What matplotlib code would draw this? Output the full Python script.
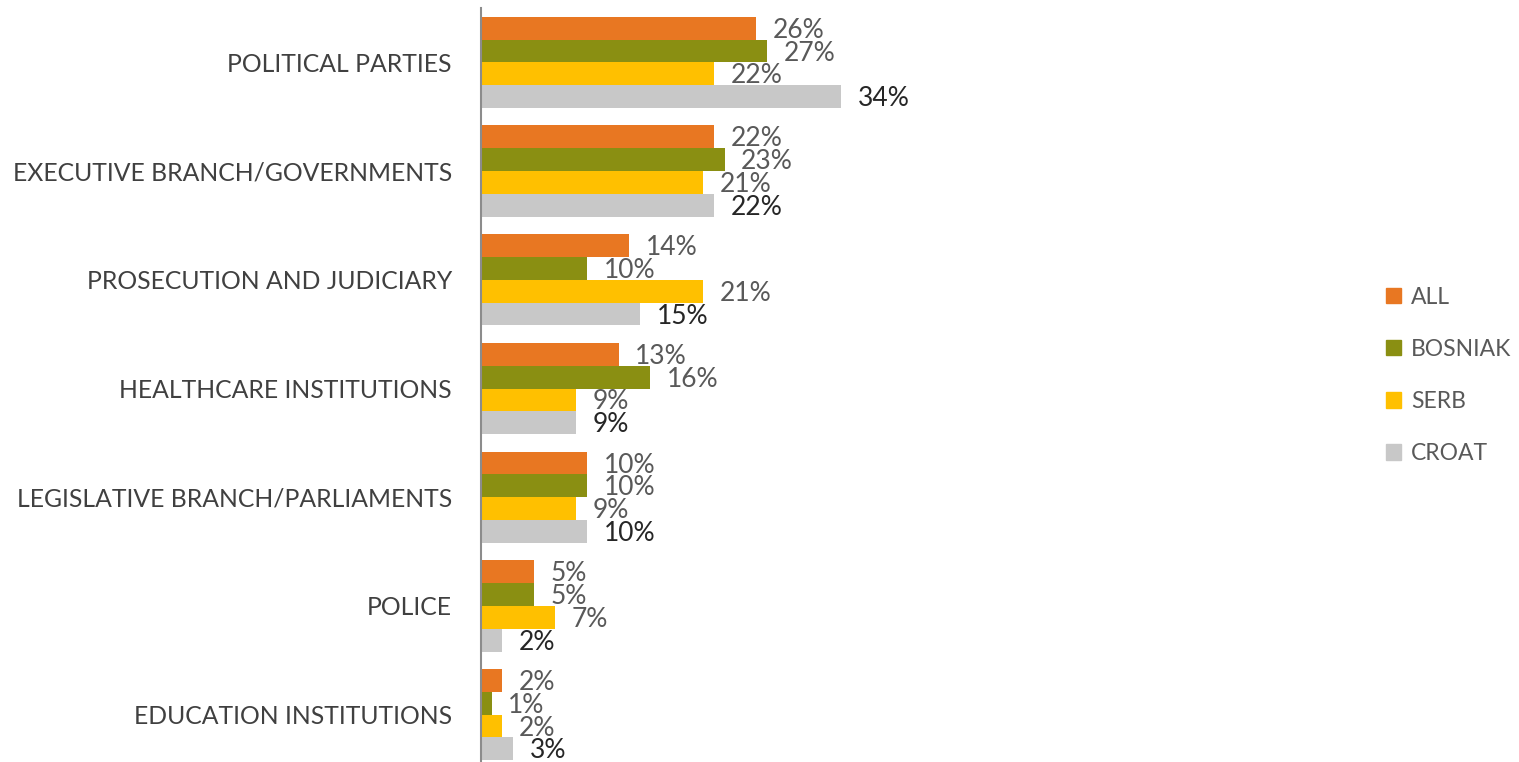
import numpy as np
import matplotlib
matplotlib.use("Agg")
import matplotlib.pyplot as plt
from matplotlib.patches import Patch

# data
categories = ["POLITICAL PARTIES", "EXECUTIVE BRANCH/GOVERNMENTS", "PROSECUTION AND JUDICIARY",
              "HEALTHCARE INSTITUTIONS", "LEGISLATIVE BRANCH/PARLIAMENTS", "POLICE",
              "EDUCATION INSTITUTIONS"]
series = ["ALL", "BOSNIAK", "SERB", "CROAT"]
all_vals = [26, 22, 14, 13, 10, 5, 2]
bosniak_vals = [27, 23, 10, 16, 10, 5, 1]
serb_vals = [22, 21, 21, 9, 9, 7, 2]
croat_vals = [34, 22, 15, 9, 10, 2, 3]

colors = ["#E87722", "#8A8F12", "#FFC000", "#C8C8C8"]
label_colors = ["#595959", "#595959", "#595959", "#262626"]

plt.rcParams['font.family'] = ['Lato', 'DejaVu Sans']

fig = plt.figure(figsize=(15.19, 7.62), dpi=100)
ax = fig.add_axes([481 / 1519, -7 / 762, 809 / 1519, 761 / 762])

y = np.arange(len(categories))
bh = 0.21
for i, vals in enumerate([all_vals, bosniak_vals, serb_vals, croat_vals]):
    pos = y - 1.5 * bh + i * bh
    ax.barh(pos, vals, height=bh, color=colors[i], label=series[i])
    for p, v in zip(pos, vals):
        ax.annotate(f"{v}%", (v, p), xytext=(12, -1.5), textcoords="offset points",
                    ha="left", va="center", fontsize=19, color=label_colors[i])

ax.set_ylim(len(categories) - 0.5, -0.5)
ax.set_xlim(0, 76.4)
ax.set_yticks(y)
ax.set_yticklabels(categories, fontsize=17.8, color="#404040")
ax.tick_params(axis="y", length=0, pad=21)
ax.set_xticks([])
for s in ["top", "right", "bottom"]:
    ax.spines[s].set_visible(False)
ax.spines["left"].set_color("#8C8C8C")
ax.spines["left"].set_linewidth(1.5)

handles = [Patch(color=c) for c in colors]
leg = fig.legend(handles, series, loc="upper left", bbox_to_anchor=(1365 / 1519, 1 - 266 / 762),
                 frameon=False, fontsize=16.5, handlelength=0.65, handleheight=0.65,
                 handletextpad=0.45, labelspacing=1.36, labelcolor="#595959")

plt.savefig("out.png", dpi=100)
